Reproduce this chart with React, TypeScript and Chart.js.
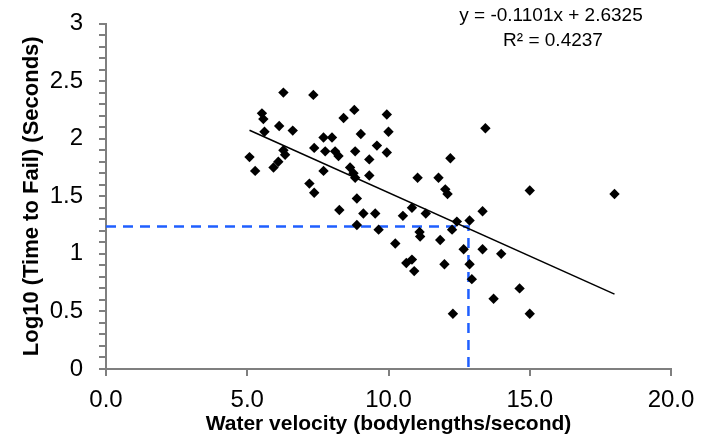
import React, { useEffect, useRef } from 'react';
import { Chart, registerables } from 'chart.js';

Chart.register(...registerables);

// Water velocity (bodylengths/second)
const velocity = [
  6.28, 7.34, 5.52, 5.57, 8.41, 6.13, 6.61, 5.61, 7.70, 8.00,
  7.37, 7.76, 8.11, 8.23, 6.28, 6.34, 5.08, 6.10, 5.93, 5.28,
  7.70, 7.20, 7.37, 8.26, 8.79, 9.94, 10.00, 9.02, 9.59, 9.94,
  8.82, 9.32, 12.19, 8.64, 8.76, 8.82, 9.32, 11.03, 11.77, 12.01,
  12.09, 8.88, 10.83, 9.11, 9.53, 10.51, 11.32, 12.42, 12.87, 13.33,
  8.88, 9.65, 11.10, 11.12, 12.25, 11.83, 10.24, 12.66, 13.33, 13.99,
  10.63, 10.83, 10.91, 11.98, 12.87, 12.95, 13.72, 12.28, 13.43, 15.00,
  18.00, 14.64, 15.00,
];

// Log10 (Time to Fail) (Seconds)
const log10Time = [
  2.40, 2.38, 2.22, 2.17, 2.18, 2.11, 2.07, 2.06, 2.01, 2.01,
  1.92, 1.89, 1.89, 1.85, 1.90, 1.86, 1.84, 1.80, 1.75, 1.72,
  1.72, 1.61, 1.53, 1.38, 2.25, 2.21, 2.06, 2.04, 1.94, 1.88,
  1.89, 1.82, 1.83, 1.75, 1.70, 1.66, 1.68, 1.66, 1.66, 1.56,
  1.52, 1.48, 1.40, 1.35, 1.35, 1.33, 1.35, 1.28, 1.29, 1.37,
  1.25, 1.21, 1.19, 1.15, 1.21, 1.12, 1.09, 1.04, 1.04, 1.00,
  0.92, 0.95, 0.85, 0.91, 0.91, 0.78, 0.61, 0.48, 2.09, 1.55,
  1.52, 0.70, 0.48,
];

// Linear trendline from the chart
const slope = -0.1101;
const intercept = 2.6325;
const rSquared = 0.4237;

// Reference (dashed) lines
const refVelocity = 12.83;
const refLog10Time = 1.237;

const xTickValues = [0, 5, 10, 15, 20];
const yLabelValues = [0, 0.5, 1, 1.5, 2, 2.5, 3];
const yMinorStep = 0.1;

const FONT = "'Liberation Sans', Arial, Helvetica, sans-serif";
const AXIS_GREY = '#7f7f7f';
const TICK_LEN = 7;

export default function App() {
  const canvasRef = useRef<HTMLCanvasElement | null>(null);

  useEffect(() => {
    const canvas = canvasRef.current;
    if (!canvas) return;

    const scatter = velocity.map((v, i) => ({ x: v, y: log10Time[i] }));
    const xMin = Math.min(...velocity);
    const xMax = Math.max(...velocity);
    const trend = [
      { x: xMin, y: intercept + slope * xMin },
      { x: xMax, y: intercept + slope * xMax },
    ];
    const refLine = [
      { x: 0, y: refLog10Time },
      { x: refVelocity, y: refLog10Time },
      { x: refVelocity, y: 0 },
    ];

    const yMax = yLabelValues[yLabelValues.length - 1];
    const yTickList: number[] = [];
    for (let i = 0; i <= Math.round(yMax / yMinorStep); i++) {
      yTickList.push(Math.round(i * yMinorStep * 10) / 10);
    }

    const tickMarksPlugin = {
      id: 'tickMarks',
      afterDraw(chart: any) {
        const ctx = chart.ctx;
        const xs = chart.scales.x;
        const ys = chart.scales.y;
        const { left, bottom } = chart.chartArea;
        ctx.save();
        ctx.strokeStyle = AXIS_GREY;
        ctx.lineWidth = 2;
        ctx.beginPath();
        yTickList.forEach((v) => {
          const py = Math.round(ys.getPixelForValue(v));
          ctx.moveTo(left - TICK_LEN, py);
          ctx.lineTo(left, py);
        });
        xTickValues.forEach((v) => {
          const px = Math.round(xs.getPixelForValue(v));
          ctx.moveTo(px, bottom);
          ctx.lineTo(px, bottom + TICK_LEN);
        });
        ctx.stroke();
        ctx.restore();
      },
    };

    const equationPlugin = {
      id: 'equation',
      afterDraw(chart: any) {
        const ctx = chart.ctx;
        ctx.save();
        ctx.fillStyle = '#000';
        ctx.font = `19px ${FONT}`;
        ctx.textAlign = 'center';
        ctx.textBaseline = 'middle';
        ctx.fillText(`y = ${slope}x + ${intercept}`, 551, 16);
        ctx.fillText(`R\u00B2 = ${rSquared}`, 553, 41);
        ctx.restore();
      },
    };

    const chart = new Chart(canvas, {
      type: 'scatter',
      data: {
        datasets: [
          {
            type: 'line',
            label: 'ref',
            data: refLine,
            borderColor: '#1f5fff',
            borderWidth: 2.5,
            borderDash: [10, 7],
            pointRadius: 0,
            fill: false,
            tension: 0,
            order: 3,
          } as any,
          {
            type: 'line',
            label: 'trend',
            data: trend,
            borderColor: '#000',
            borderWidth: 1.5,
            pointRadius: 0,
            fill: false,
            tension: 0,
            order: 2,
          } as any,
          {
            label: 'data',
            data: scatter,
            pointStyle: 'rectRot',
            pointRadius: 5.2,
            pointBackgroundColor: '#000',
            pointBorderColor: '#000',
            pointBorderWidth: 0,
            order: 1,
          },
        ],
      },
      options: {
        animation: false,
        responsive: false,
        maintainAspectRatio: false,
        layout: { padding: { left: 0, right: 42, top: 23.5, bottom: 0 } },
        plugins: {
          legend: { display: false },
          tooltip: { enabled: false },
        },
        scales: {
          x: {
            type: 'linear',
            min: 0,
            max: 20,
            afterFit(scale: any) {
              scale.height = 73;
            },
            afterBuildTicks(scale: any) {
              scale.ticks = xTickValues.map((v) => ({ value: v }));
            },
            ticks: {
              padding: 9.5,
              color: '#000',
              font: { family: FONT, size: 24 },
              callback: (v: any) => Number(v).toFixed(1),
              maxRotation: 0,
              autoSkip: false,
            },
            grid: {
              drawOnChartArea: false,
              drawTicks: true,
              tickLength: TICK_LEN,
              color: AXIS_GREY,
              lineWidth: 2,
            },
            border: { display: true, color: AXIS_GREY, width: 2 },
            title: {
              display: true,
              text: 'Water velocity (bodylengths/second)',
              color: '#000',
              font: { family: FONT, size: 21, weight: 'bold' },
              padding: { top: 0, bottom: 5 },
            },
          },
          y: {
            type: 'linear',
            min: 0,
            max: yMax,
            afterFit(scale: any) {
              scale.width = 106;
              scale.paddingTop = 0;
              scale.paddingBottom = 0;
            },
            afterBuildTicks(scale: any) {
              scale.ticks = yTickList.map((v) => ({ value: v }));
            },
            ticks: {
              padding: 16,
              color: '#000',
              autoSkip: false,
              font: { family: FONT, size: 24 },
              callback: (v: any) => {
                const r = Math.round(Number(v) * 10) / 10;
                return yLabelValues.some((l) => Math.abs(l - r) < 1e-6) ? String(r) : '';
              },
            },
            grid: {
              drawOnChartArea: false,
              drawTicks: true,
              tickLength: TICK_LEN,
              color: AXIS_GREY,
              lineWidth: 2,
            },
            border: { display: true, color: AXIS_GREY, width: 2 },
            title: {
              display: true,
              text: 'Log10 (Time to Fail) (Seconds)',
              color: '#000',
              font: { family: FONT, size: 22, weight: 'bold' },
              padding: { top: 19, bottom: 0 },
            },
          },
        },
      },
      plugins: [tickMarksPlugin, equationPlugin],
    } as any);

    return () => chart.destroy();
  }, []);

  return (
    <div style={{ position: 'absolute', left: 0, top: 0, width: 713, height: 442, background: '#fff' }}>
      <canvas ref={canvasRef} width={713} height={442} style={{ display: 'block', width: 713, height: 442 }} />
    </div>
  );
}
